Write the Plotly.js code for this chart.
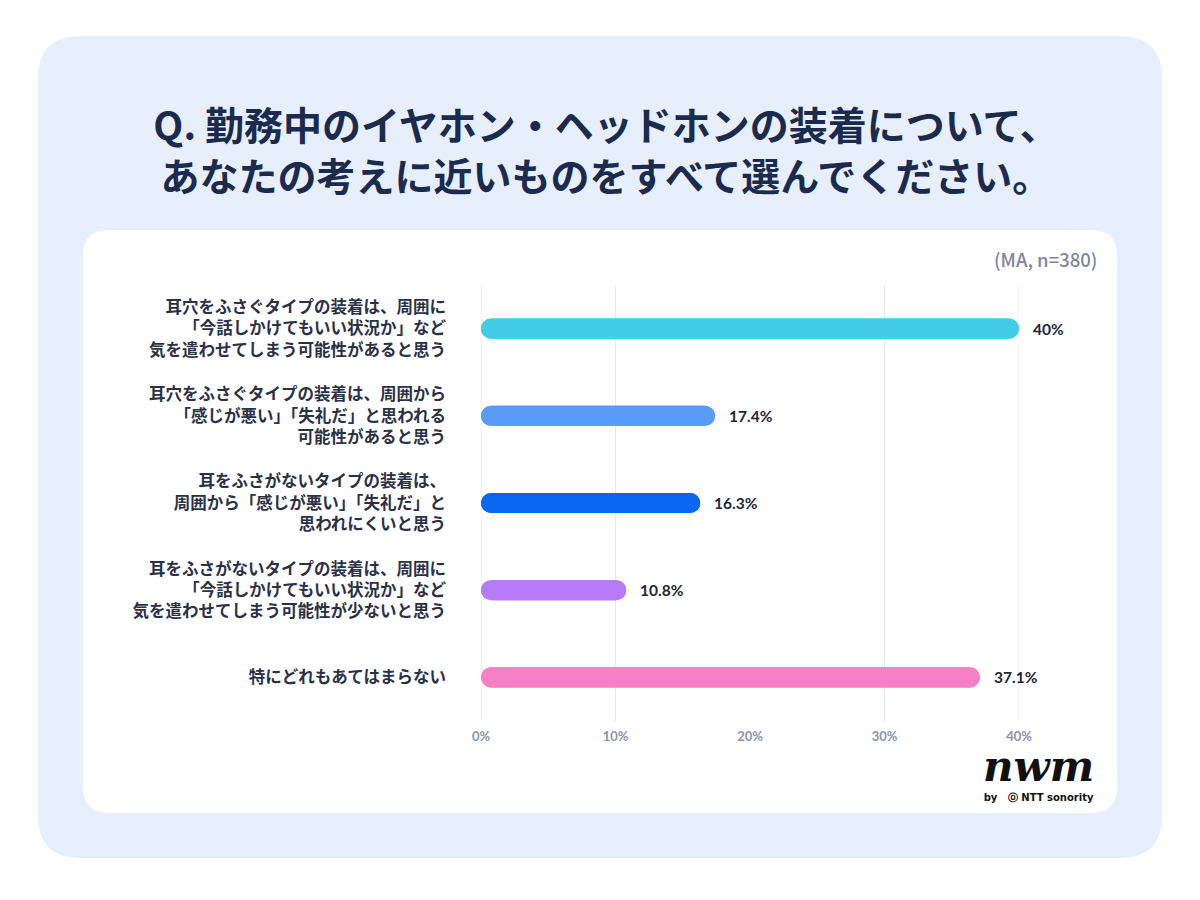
<!DOCTYPE html>
<html>
<head>
<meta charset="utf-8">
<script src="https://cdn.plot.ly/plotly-3.0.1.min.js"></script>
<style>
  html, body { margin: 0; padding: 0; background: #ffffff; }
  #chart { width: 1200px; height: 900px; }
</style>
</head>
<body>
<div id="chart"></div>
<script>
// ---- data ----
const categories = [
  "耳穴をふさぐタイプの装着は、周囲に<br>「今話しかけてもいい状況か」など<br>気を遣わせてしまう可能性があると思う",
  "耳穴をふさぐタイプの装着は、周囲から<br>「感じが悪い」「失礼だ」と思われる<br>可能性があると思う",
  "耳をふさがないタイプの装着は、<br>周囲から「感じが悪い」「失礼だ」と<br>思われにくいと思う",
  "耳をふさがないタイプの装着は、周囲に<br>「今話しかけてもいい状況か」など<br>気を遣わせてしまう可能性が少ないと思う",
  "特にどれもあてはまらない"
];
const values = [40, 17.4, 16.3, 10.8, 37.1];
const valueLabels = ["40%", "17.4%", "16.3%", "10.8%", "37.1%"];
const barColors = ["#41cde8", "#589bf8", "#0a67f0", "#b77af8", "#f77fc5"];
const tickValues = [0, 10, 20, 30, 40];
const tickLabels = ["0%", "10%", "20%", "30%", "40%"];
const gridValues = [0, 10, 30, 40];
const titleText = "Q. 勤務中のイヤホン・ヘッドホンの装着について、<br>あなたの考えに近いものをすべて選んでください。";
const noteText = "(MA, n=380)";
const logoText = "nwm";
const logoSubText = "by   ⓞ NTT sonority";

// ---- layout geometry ----
const W = 1200, H = 900;
const M = { l: 481, r: 181, t: 285, b: 179 };
const PW = W - M.l - M.r, PH = H - M.t - M.b;
const px2x = p => (p - M.l) / PW;
const px2y = p => 1 - (p - M.t) / PH;

function roundRect(x0, y0, x1, y1, r) {
  const X = px2x, Y = px2y;
  return "M" + X(x0 + r) + "," + Y(y0) +
    " L" + X(x1 - r) + "," + Y(y0) +
    " Q" + X(x1) + "," + Y(y0) + " " + X(x1) + "," + Y(y0 + r) +
    " L" + X(x1) + "," + Y(y1 - r) +
    " Q" + X(x1) + "," + Y(y1) + " " + X(x1 - r) + "," + Y(y1) +
    " L" + X(x0 + r) + "," + Y(y1) +
    " Q" + X(x0) + "," + Y(y1) + " " + X(x0) + "," + Y(y1 - r) +
    " L" + X(x0) + "," + Y(y0 + r) +
    " Q" + X(x0) + "," + Y(y0) + " " + X(x0 + r) + "," + Y(y0) + " Z";
}

const JP = '"Noto Sans CJK JP", "Noto Sans", sans-serif';
const NUM = 'Lato, "Noto Sans", sans-serif';

const traces = [
  {
    type: "bar", orientation: "h",
    y: categories, x: values, base: 0,
    width: 0.23,
    marker: { color: barColors, cornerradius: "50%", line: { width: 0 } },
    hoverinfo: "skip", showlegend: false
  },
  {
    type: "bar", orientation: "h",
    y: categories, x: values.map(v => -v), base: values,
    width: 0.23,
    marker: { color: barColors, cornerradius: "50%", line: { width: 0 } },
    hoverinfo: "skip", showlegend: false
  }
];

const shapes = [
  { type: "path", xref: "paper", yref: "paper", layer: "below",
    path: roundRect(38, 36, 1162, 858, 42), fillcolor: "#e8effc", line: { width: 0 } },
  { type: "path", xref: "paper", yref: "paper", layer: "below",
    path: roundRect(83, 230, 1117, 813, 26), fillcolor: "#ffffff", line: { width: 0 } }
];
gridValues.forEach(g => shapes.push({
  type: "line", xref: "x", yref: "paper", layer: "below",
  x0: g, x1: g, y0: 0, y1: 1.0,
  line: { color: "#e3e8f3", width: 1 }
}));

const annotations = values.map((v, i) => ({
  xref: "x", yref: "y", x: v, y: categories[i],
  text: "<b>" + valueLabels[i] + "</b>",
  xanchor: "left", yanchor: "middle", xshift: 12, showarrow: false,
  font: { family: NUM, size: 15.5, color: "#1f2639", weight: 900 }
}));
annotations.push({
  xref: "paper", yref: "paper", x: px2x(1099), y: px2y(259),
  text: noteText, xanchor: "right", yanchor: "middle", showarrow: false,
  font: { family: JP, size: 18.5, color: "#7d869c", weight: 500 }
});
annotations.push({
  xref: "paper", yref: "paper", x: px2x(1038), y: px2y(772),
  text: "<span style='font-size:42px;font-family:\"DejaVu Serif\",serif'><b><i>" + logoText +
        "</i></b></span><br><span style='font-size:10px'><b>" + logoSubText + "</b></span>",
  xanchor: "center", yanchor: "middle", showarrow: false,
  font: { family: '"DejaVu Sans", sans-serif', size: 15, color: "#111111" }
});

const layout = {
  width: W, height: H,
  margin: M,
  paper_bgcolor: "#ffffff",
  plot_bgcolor: "rgba(0,0,0,0)",
  barmode: "overlay",
  title: {
    text: "<b>" + titleText + "</b>",
    xref: "container", yref: "container",
    x: 0.5 + 6 / 1200, y: 1 - 140 / 900, xanchor: "center", yanchor: "middle",
    font: { family: JP, size: 39, color: "#1a2b4e" }
  },
  xaxis: {
    range: [0, 40],
    tickvals: tickValues, ticktext: tickLabels,
    showgrid: false, zeroline: false, showline: false,
    ticks: "", ticklabelstandoff: 6,
    tickfont: { family: NUM, size: 13, color: "#8b94aa", weight: "bold" },
    fixedrange: true
  },
  yaxis: {
    autorange: "reversed",
    type: "category",
    showgrid: false, zeroline: false, showline: false,
    ticks: "", ticklabelstandoff: 34,
    tickfont: { family: JP, size: 16.5, color: "#2a3147", weight: "bold" },
    fixedrange: true
  },
  shapes: shapes,
  annotations: annotations,
  showlegend: false
};

Plotly.newPlot("chart", traces, layout, { displayModeBar: false, staticPlot: true });
</script>
</body>
</html>
